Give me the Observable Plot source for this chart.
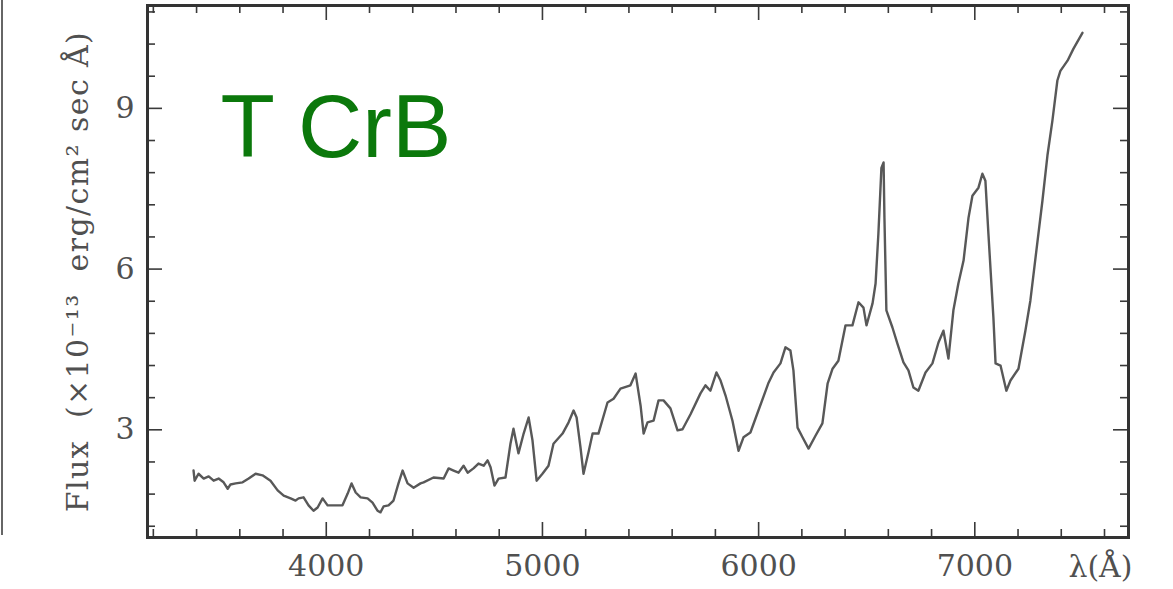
<!DOCTYPE html>
<html>
<head>
<meta charset="utf-8">
<script src="https://cdn.jsdelivr.net/npm/d3@7"></script>
<script src="https://cdn.jsdelivr.net/npm/@observablehq/plot@0.6"></script>
<style>
  html, body { margin: 0; padding: 0; background: #fff; }
  #wrap { position: relative; width: 1173px; height: 589px; overflow: hidden; }
  #chart { position: absolute; left: 0; top: 0; }
  /* edge of the neighbouring panel on the left */
  #edge { position: absolute; left: 1px; top: 0; width: 2px; height: 535px; background: #666; }
</style>
</head>
<body>
<div id="wrap"><div id="chart"></div><div id="edge"></div></div>
<script>
// Optical spectrum of T CrB: wavelength (Å) and flux (×10⁻¹³ erg/cm²/s/Å)
const wavelength = [
  3386,3391,3409,3433,3456,3479,3502,3525,3544,3557,
  3581,3613,3641,3673,3705,3742,3775,3803,3835,3858,
  3872,3895,3918,3941,3960,3983,4006,4034,4075,4099,
  4117,4136,4159,4191,4214,4237,4251,4265,4288,4311,
  4334,4353,4376,4404,4436,4450,4496,4543,4566,4589,
  4612,4635,4654,4681,4704,4728,4746,4760,4778,4797,
  4829,4852,4866,4889,4913,4936,4954,4973,5000,5028,
  5051,5093,5121,5144,5158,5176,5190,5213,5232,5259,
  5301,5329,5361,5407,5431,5454,5468,5486,5514,5537,
  5560,5592,5625,5648,5685,5731,5754,5777,5805,5824,
  5847,5879,5907,5930,5962,5999,6046,6069,6101,6124,
  6147,6161,6180,6203,6231,6263,6295,6319,6342,6369,
  6402,6434,6462,6485,6499,6527,6541,6554,6568,6578,
  6582,6591,6619,6642,6670,6693,6716,6739,6772,6804,
  6832,6855,6878,6901,6924,6948,6971,6989,7017,7035,
  7049,7063,7086,7096,7119,7146,7165,7202,7234,7257,
  7285,7313,7336,7359,7382,7396,7429,7456,7498
];
const flux = [
  2.24,2.05,2.18,2.09,2.13,2.05,2.09,2.02,1.90,1.98,
  2.00,2.02,2.09,2.18,2.15,2.05,1.87,1.77,1.72,1.68,
  1.72,1.74,1.59,1.49,1.55,1.72,1.59,1.59,1.59,1.81,
  2.00,1.83,1.74,1.72,1.64,1.49,1.46,1.57,1.59,1.68,
  2.00,2.24,2.00,1.92,2.00,2.02,2.11,2.09,2.28,2.24,
  2.20,2.33,2.20,2.28,2.37,2.33,2.43,2.30,1.96,2.09,
  2.11,2.74,3.02,2.56,2.93,3.23,2.80,2.05,2.18,2.33,
  2.74,2.93,3.14,3.36,3.23,2.67,2.18,2.58,2.93,2.93,
  3.51,3.58,3.77,3.83,4.05,3.45,2.93,3.14,3.17,3.55,
  3.55,3.40,2.99,3.01,3.29,3.68,3.83,3.73,4.07,3.92,
  3.64,3.17,2.61,2.86,2.95,3.36,3.88,4.07,4.24,4.54,
  4.48,4.11,3.04,2.86,2.65,2.89,3.12,3.86,4.14,4.29,
  4.95,4.95,5.38,5.28,4.95,5.36,5.73,6.66,7.89,7.99,
  6.96,5.23,4.91,4.61,4.26,4.11,3.79,3.73,4.07,4.24,
  4.63,4.85,4.33,5.23,5.73,6.16,6.96,7.37,7.52,7.78,
  7.65,6.66,5.10,4.24,4.20,3.73,3.92,4.14,4.85,5.41,
  6.35,7.28,8.12,8.77,9.52,9.70,9.89,10.11,10.41
];

// Axis ticks
const xMajor = [4000, 5000, 6000, 7000];
const xMinor = [3200, 3400, 3600, 3800, 4200, 4400, 4600, 4800, 5200, 5400, 5600, 5800,
                6200, 6400, 6600, 6800, 7200, 7400, 7600];
const yMajor = [3, 6, 9];
const yMinor = [1.2, 1.8, 2.4, 3.6, 4.2, 4.8, 5.4, 6.6, 7.2, 7.8, 8.4, 9.6, 10.2, 10.8];

// Texts
const starName = "T CrB";
const yTitle = "Flux  (×10⁻¹³  erg/cm² sec Å)";
const xUnit = "λ(Å)";

const spectrum = wavelength.map((w, i) => ({wavelength: w, flux: flux[i]}));

const W = 1173, H = 589;
const mL = 147, mR = 45, mT = 5, mB = 52;
const innerW = W - mL - mR, innerH = H - mT - mB;
const majorLen = 15, minorLen = 8;
const tickColor = "#3a3a3a";
const textColor = "#505050";
const serif = "'DejaVu Serif', 'Liberation Serif', serif";

// Inward ticks on all four sides of the frame
function xTicks(values, len) {
  return [
    Plot.tickX(values, {x: d => d, insetTop: innerH - len, stroke: tickColor, strokeWidth: 1.6}),
    Plot.tickX(values, {x: d => d, insetBottom: innerH - len, stroke: tickColor, strokeWidth: 1.6})
  ];
}
function yTicks(values, len) {
  return [
    Plot.tickY(values, {y: d => d, insetRight: innerW - len, stroke: tickColor, strokeWidth: 1.6}),
    Plot.tickY(values, {y: d => d, insetLeft: innerW - len, stroke: tickColor, strokeWidth: 1.6})
  ];
}

const chart = Plot.plot({
  width: W,
  height: H,
  marginLeft: mL,
  marginRight: mR,
  marginTop: mT,
  marginBottom: mB,
  x: {domain: [3173, 7711]},
  y: {domain: [0.99, 10.92]},
  style: {fontFamily: serif, background: "transparent", overflow: "visible"},
  marks: [
    ...xTicks(xMinor, minorLen),
    ...xTicks(xMajor, majorLen),
    ...yTicks(yMinor, minorLen),
    ...yTicks(yMajor, majorLen),
    Plot.line(spectrum, {x: "wavelength", y: "flux", stroke: "#585858", strokeWidth: 2.4, strokeLinejoin: "round"}),
    Plot.frame({stroke: "#333", strokeWidth: 3}),
    Plot.axisX(xMajor, {tickSize: 0, tickPadding: 17, tickFormat: d => String(d), fontSize: 30, fill: textColor, label: null}),
    Plot.axisY(yMajor, {tickSize: 0, tickPadding: 13, tickFormat: d => String(d), fontSize: 30, fill: textColor, label: null}),
    Plot.text([yTitle], {frameAnchor: "left", rotate: -90, dx: -69, textAnchor: "middle", fontSize: 30, fill: textColor}),
    Plot.text([xUnit], {frameAnchor: "bottom-right", dx: 4, dy: 39, textAnchor: "end", fontSize: 30, fill: textColor}),
    Plot.text([starName], {
      frameAnchor: "top-left", dx: 73, dy: 88, textAnchor: "start", lineAnchor: "top",
      fontSize: 89, fontFamily: "'Liberation Sans', Arial, sans-serif", fill: "#0b780b"
    })
  ]
});

// Widen the letter spacing of the flux axis title
for (const t of chart.querySelectorAll("text")) {
  if (t.textContent === yTitle) t.style.letterSpacing = "1.4px";
}
document.getElementById("chart").appendChild(chart);
</script>
</body>
</html>
